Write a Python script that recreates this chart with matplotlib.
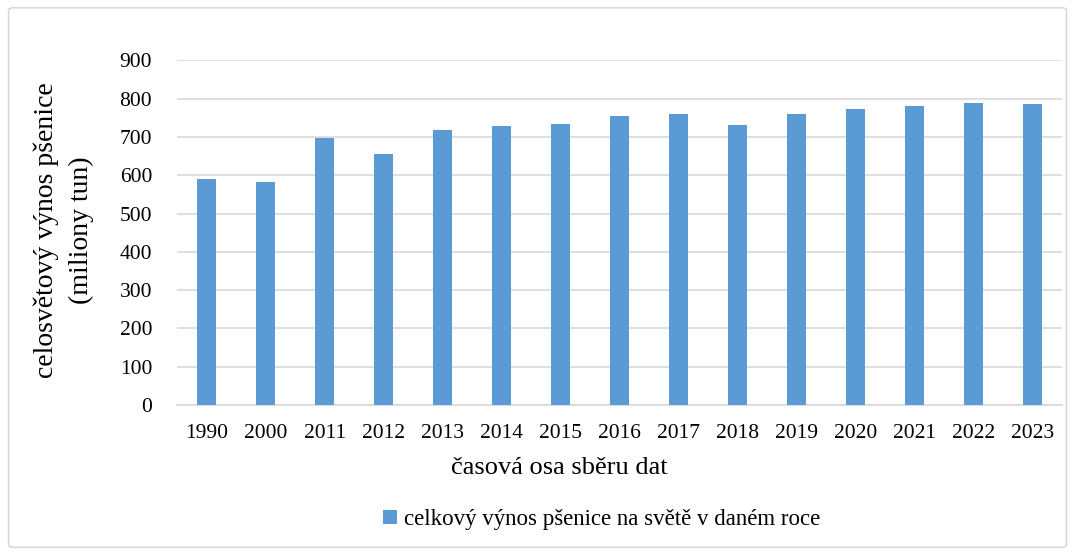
import matplotlib
matplotlib.use("Agg")
import matplotlib.pyplot as plt
from matplotlib.patches import FancyBboxPatch

# data
years = ['1990', '2000', '2011', '2012', '2013', '2014', '2015', '2016',
         '2017', '2018', '2019', '2020', '2021', '2022', '2023']
yields = [591, 582, 697, 655, 717, 728, 735, 756,
          761, 730, 759, 773, 780, 789, 785]
yticks = [0, 100, 200, 300, 400, 500, 600, 700, 800, 900]

plt.rcParams['font.family'] = ['Liberation Serif', 'DejaVu Serif']
bar_color = '#5b9bd5'

fig = plt.figure(figsize=(10.74, 5.54), dpi=100)
ax = fig.add_axes([0.165, 0.269, 0.824, 0.622])

ax.bar(years, yields, width=0.32, color=bar_color, zorder=3,
       label='celkový výnos pšenice na světě v daném roce')
ax.set_ylim(0, 900)
ax.set_xlim(-0.5, len(years) - 0.5)
ax.set_yticks(yticks)
ax.yaxis.grid(True, color='#d9d9d9', linewidth=1.2, zorder=0)
ax.tick_params(axis='both', length=0, labelsize=15.5)
ax.tick_params(axis='y', pad=18)
ax.tick_params(axis='x', pad=14)
for s in ['top', 'right', 'left']:
    ax.spines[s].set_visible(False)
ax.spines['bottom'].set_color('#d9d9d9')
ax.spines['bottom'].set_linewidth(1.2)

ax.set_xlabel('časová osa sběru dat', fontsize=19)
ax.xaxis.set_label_coords(0.432, -0.183)
ax.xaxis.label.set_va('center')
fig.text(0.043, 0.585, 'celosvětový výnos pšenice', rotation=90,
         ha='center', va='center', fontsize=20)
fig.text(0.076, 0.585, '(miliony tun)', rotation=90,
         ha='center', va='center', fontsize=20)

fig.legend(loc='center', bbox_to_anchor=(0.56, 0.062), frameon=False,
           fontsize=16.5, handlelength=0.6, handleheight=0.6, handletextpad=0.3)

border = FancyBboxPatch((0.008, 0.012), 0.985, 0.974,
                        boxstyle='round,pad=0,rounding_size=0.005',
                        transform=fig.transFigure, fill=False,
                        edgecolor='#d9d9d9', linewidth=1.2)
fig.patches.append(border)

fig.savefig('out.png', dpi=100)
